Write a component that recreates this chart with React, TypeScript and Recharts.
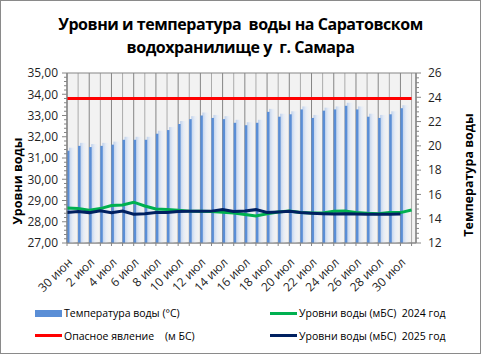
import React from "react";
import { ComposedChart, Bar, Line, XAxis, YAxis, CartesianGrid, Legend } from "recharts";

// даты наблюдений (30 июня – 31 июля)
const dates = [
  "30 июн", "1 июл", "2 июл", "3 июл", "4 июл", "5 июл", "6 июл", "7 июл",
  "8 июл", "9 июл", "10 июл", "11 июл", "12 июл", "13 июл", "14 июл", "15 июл",
  "16 июл", "17 июл", "18 июл", "19 июл", "20 июл", "21 июл", "22 июл", "23 июл",
  "24 июл", "25 июл", "26 июл", "27 июл", "28 июл", "29 июл", "30 июл", "31 июл",
];

// температура воды, °C (2025)
const waterTemp = [
  19.6, 20.0, 19.9, 20.0, 20.1, 20.5, 20.5, 20.5, 21.0, 21.3, 21.8, 22.2, 22.5, 22.3, 22.2, 21.9,
  21.7, 21.9, 22.8, 22.4, 22.6, 23.0, 22.3, 22.9, 23.0, 23.3, 23.0, 22.4, 22.3, 22.6, 23.1,
];

// уровни воды, м БС
const level2024 = [
  28.65, 28.62, 28.54, 28.62, 28.76, 28.79, 28.92, 28.74, 28.6, 28.58, 28.54, 28.5, 28.49, 28.48, 28.45, 28.41,
  28.34, 28.27, 28.38, 28.46, 28.5, 28.44, 28.41, 28.41, 28.49, 28.51, 28.44, 28.4, 28.38, 28.43, 28.43, 28.55,
];
const level2025 = [
  28.44, 28.48, 28.43, 28.52, 28.43, 28.5, 28.35, 28.38, 28.43, 28.44, 28.48, 28.49, 28.49, 28.5, 28.57, 28.48,
  28.51, 28.57, 28.44, 28.46, 28.49, 28.43, 28.4, 28.38, 28.37, 28.38, 28.37, 28.35, 28.35, 28.35, 28.37,
];
const dangerLevel = 33.8;

const levelMajor = [27, 28, 29, 30, 31, 32, 33, 34, 35];
const tempMajor = [12, 14, 16, 18, 20, 22, 24, 26];
const levelTicks = Array.from({ length: 41 }, (_, k) => +(27 + k * 0.2).toFixed(2));
const tempTicks = Array.from({ length: 36 }, (_, k) => +(12 + k * 0.4).toFixed(2));
const dayTicks = dates.map((_, i) => i);
const minorDays = dayTicks.filter((i) => i % 2 === 1);
const majorDays = dayTicks.filter((i) => i % 2 === 0);
const DAY_DOMAIN: [number, number] = [0, 31.4];

const data = dates.map((date, i) => ({
  i,
  date,
  temp: waterTemp[i] ?? null,
  l2024: level2024[i] ?? null,
  l2025: level2025[i] ?? null,
  danger: dangerLevel,
}));

const FONT = '"Open Sans", "Noto Sans", sans-serif';
const TXT = "#1f1f1f";
const isMajor = (v: number, list: number[]) => list.some((m) => Math.abs(m - v) < 1e-6);

const LeftTick = (props: any) => {
  const { x, y, payload } = props;
  const ax = x + 9;
  const major = isMajor(payload.value, levelMajor);
  return (
    <g>
      <line x1={ax - (major ? 5 : 3)} x2={ax} y1={y} y2={y} stroke="#868686" />
      {major && (
        <text x={x} y={y} dy="0.36em" textAnchor="end" fontSize={12} fill={TXT} fontFamily={FONT}>
          {payload.value.toFixed(2).replace(".", ",")}
        </text>
      )}
    </g>
  );
};

const RightTick = (props: any) => {
  const { x, y, payload } = props;
  const ax = x - 9;
  const major = isMajor(payload.value, tempMajor);
  return (
    <g>
      <line x1={ax} x2={ax + (major ? 5 : 3)} y1={y} y2={y} stroke="#868686" />
      {major && (
        <text x={x + 3} y={y} dy="0.36em" textAnchor="start" fontSize={12} fill={TXT} fontFamily={FONT}>
          {Math.round(payload.value)}
        </text>
      )}
    </g>
  );
};

const DateTick = (props: any) => {
  const { x, y, payload } = props;
  const i = payload.value;
  if (i % 2 !== 0 || i > 30) return <g />;
  return (
    <text
      x={x + 3}
      y={y}
      dy="0.36em"
      textAnchor="end"
      transform={`rotate(-45 ${x + 3} ${y})`}
      fontSize={12}
      fill={TXT}
      fontFamily={FONT}
    >
      {dates[i]}
    </text>
  );
};

const TempBar = (props: any) => {
  const { x, y, width, height } = props;
  if (!height || height <= 0) return <g />;
  const cx = x + width / 2;
  return (
    <g>
      <rect x={cx + 1.5} y={y - 3} width={8} height={height + 3} fill="url(#barGlow)" />
      <rect x={cx - 0.5} y={y} width={2.5} height={height} fill="#5A8ED6" />
    </g>
  );
};

const AxisTitle = (props: any) => {
  const { viewBox, value, side } = props;
  const cx = side === "left" ? viewBox.x + 17 : viewBox.x + 52;
  const cy = viewBox.y + viewBox.height / 2 + (side === "left" ? 23 : 17);
  return (
    <text
      x={cx}
      y={cy}
      dy="0.36em"
      textAnchor="middle"
      transform={`rotate(-90 ${cx} ${cy})`}
      fontSize={12.5}
      fontWeight={700}
      fill="#000"
      fontFamily={FONT}
    >
      {value}
    </text>
  );
};

const legendSlots: Record<string, { left: number; top: number }> = {
  temp: { left: 35, top: 13 },
  l2024: { left: 270, top: 13 },
  danger: { left: 35, top: 35.5 },
  l2025: { left: 270, top: 35.5 },
};

const LegendBox = (props: any) => {
  const { payload = [] } = props;
  return (
    <div style={{ position: "relative", width: 481, height: 50, fontFamily: FONT }}>
      {payload.map((p: any) => {
        const slot = legendSlots[p.dataKey];
        if (!slot) return null;
        const isBar = p.dataKey === "temp";
        return (
          <div
            key={p.dataKey}
            style={{ position: "absolute", left: slot.left, top: slot.top - 8, height: 16, display: "flex", alignItems: "center" }}
          >
            <span
              style={{ display: "inline-block", width: 27, height: isBar ? 7 : 3, background: p.color, marginRight: 2 }}
            />
            <span style={{ fontSize: 10.5, color: "#000", whiteSpace: "pre" }}>{p.value}</span>
          </div>
        );
      })}
    </div>
  );
};

export default function App() {
  return (
    <div style={{ position: "absolute", left: 0, top: 0, width: 481, height: 354, background: "#fff" }}>
      <div
        style={{
          position: "absolute",
          top: 12.5,
          left: 0,
          width: 481,
          textAlign: "center",
          fontFamily: FONT,
          fontWeight: 700,
          fontSize: 16,
          letterSpacing: "-0.45px",
          lineHeight: "23px",
          color: "#000",
        }}
      >
        Уровни и температура&nbsp; воды на Саратовском
        <br />
        водохранилище у&nbsp; г. Самара
      </div>
      <ComposedChart width={481} height={354} data={data} margin={{ top: 73, right: 0, bottom: 51, left: 0 }}>
        <defs>
          <linearGradient id="barGlow" x1="0" y1="0" x2="1" y2="0">
            <stop offset="0%" stopColor="#bccfeb" stopOpacity={0.95} />
            <stop offset="45%" stopColor="#e4ebf6" stopOpacity={0.9} />
            <stop offset="100%" stopColor="#f2f2f2" stopOpacity={0} />
          </linearGradient>
        </defs>
        <CartesianGrid xAxisId="minor" yAxisId="left" fill="#F2F2F2" horizontal={false} stroke="#ababab" />
        <CartesianGrid xAxisId="major" yAxisId="levelMajor" stroke="#858585" />
        <XAxis xAxisId="minor" dataKey="i" type="number" domain={DAY_DOMAIN} ticks={minorDays} hide />
        <XAxis xAxisId="major" dataKey="i" type="number" domain={DAY_DOMAIN} ticks={majorDays} hide />
        <YAxis yAxisId="levelMajor" domain={[27, 35]} ticks={levelMajor} hide />
        <XAxis
          dataKey="i"
          type="number"
          domain={DAY_DOMAIN}
          ticks={dayTicks}
          interval={0}
          tickSize={3}
          tickMargin={14}
          height={60}
          stroke="#868686"
          tick={<DateTick />}
        />
        <YAxis
          yAxisId="left"
          orientation="left"
          domain={[27, 35]}
          ticks={levelTicks}
          interval={0}
          width={67}
          tickSize={5}
          tickMargin={4}
          tickLine={false}
          stroke="#868686"
          tick={<LeftTick />}
          label={<AxisTitle value="Уровни воды" side="left" />}
        />
        <YAxis
          yAxisId="right"
          orientation="right"
          domain={[12, 26]}
          ticks={tempTicks}
          interval={0}
          width={65}
          tickSize={5}
          tickMargin={4}
          tickLine={false}
          stroke="#868686"
          tick={<RightTick />}
          label={<AxisTitle value="Температура воды" side="right" />}
        />
        <Bar
          yAxisId="right"
          dataKey="temp"
          name="Температура воды (°С)"
          fill="#5A8ED6"
          barSize={2}
          shape={<TempBar />}
          isAnimationActive={false}
        />
        <Line
          yAxisId="left"
          dataKey="l2024"
          name="Уровни воды (мБС)  2024 год"
          stroke="#00B050"
          strokeWidth={3}
          dot={false}
          activeDot={false}
          isAnimationActive={false}
        />
        <Line
          yAxisId="left"
          dataKey="l2025"
          name="Уровни воды (мБС)  2025 год"
          stroke="#002060"
          strokeWidth={3}
          dot={false}
          activeDot={false}
          isAnimationActive={false}
        />
        <Line
          yAxisId="left"
          dataKey="danger"
          name="Опасное явление    (м БС)"
          stroke="#FF0000"
          strokeWidth={3}
          dot={false}
          activeDot={false}
          isAnimationActive={false}
        />
        <Legend
          layout="horizontal"
          verticalAlign="middle"
          align="center"
          wrapperStyle={{ top: 300, left: 0, width: 481, height: 50 }}
          content={<LegendBox />}
        />
      </ComposedChart>
      <div
        style={{
          position: "absolute",
          left: 0,
          top: 0,
          width: 481,
          height: 354,
          boxSizing: "border-box",
          border: "1px solid #8a8a8a",
          pointerEvents: "none",
        }}
      />
    </div>
  );
}
